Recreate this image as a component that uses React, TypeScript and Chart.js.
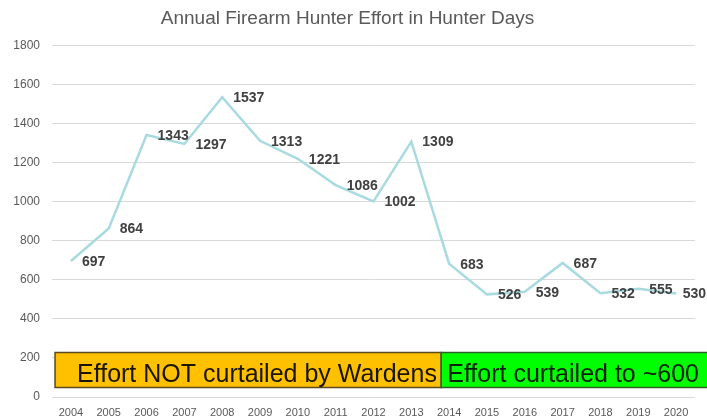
import React, { useEffect, useRef } from "react";
import { Chart, registerables } from "chart.js";

Chart.register(...registerables);

const years = ["2004", "2005", "2006", "2007", "2008", "2009", "2010", "2011", "2012", "2013", "2014", "2015", "2016", "2017", "2018", "2019", "2020"];
const hunterDays = [697, 864, 1343, 1297, 1537, 1313, 1221, 1086, 1002, 1309, 683, 526, 539, 687, 532, 555, 530];
const titleText = "Annual Firearm Hunter Effort in Hunter Days";
const bandLabels = ["Effort NOT curtailed by Wardens", "Effort curtailed to ~600"];
const bandRange = [52, 230];
const bandSplitIndex = 9;

const FONT = "'Liberation Sans', Arial, sans-serif";

const bandsPlugin = {
  id: "bands",
  afterDraw(chart: any) {
    const { ctx, scales } = chart;
    const x = scales.x;
    const y = scales.y;
    const step = x.getPixelForValue(1) - x.getPixelForValue(0);
    const left = x.getPixelForValue(0) - step * 0.42;
    const split = x.getPixelForValue(bandSplitIndex) + step * 0.79;
    const right = chart.width;
    const top = Math.round(y.getPixelForValue(bandRange[1])) + 0.5;
    const bottom = Math.round(y.getPixelForValue(bandRange[0])) + 0.5;
    ctx.save();
    ctx.lineWidth = 1.5;
    ctx.fillStyle = "#FFC000";
    ctx.strokeStyle = "#5a4a1e";
    ctx.fillRect(left, top, split - left, bottom - top);
    ctx.strokeRect(left, top, split - left, bottom - top);
    ctx.fillStyle = "#00FF00";
    ctx.strokeStyle = "#2f5f2f";
    ctx.fillRect(split, top, right - split, bottom - top);
    ctx.strokeRect(split, top, right - split + 2, bottom - top);
    ctx.font = `25px ${FONT}`;
    ctx.textBaseline = "alphabetic";
    ctx.textAlign = "left";
    ctx.fillStyle = "#1a1400";
    ctx.fillText(bandLabels[0], left + 22, bottom - 6);
    ctx.fillStyle = "#0a200a";
    ctx.fillText(bandLabels[1], split + 6, bottom - 6);
    ctx.restore();
  },
};

const valueLabelsPlugin = {
  id: "valueLabels",
  afterDatasetsDraw(chart: any) {
    const { ctx } = chart;
    const meta = chart.getDatasetMeta(0);
    ctx.save();
    ctx.font = `bold 14px ${FONT}`;
    ctx.fillStyle = "#404040";
    ctx.textBaseline = "middle";
    ctx.textAlign = "left";
    meta.data.forEach((pt: any, i: number) => {
      const txt = String(chart.data.datasets[0].data[i]);
      const w = ctx.measureText(txt).width;
      const xx = Math.min(pt.x + 11, chart.width - w - 1);
      ctx.fillText(txt, xx, pt.y + 1);
    });
    ctx.restore();
  },
};

export default function App() {
  const ref = useRef<HTMLCanvasElement | null>(null);
  useEffect(() => {
    if (!ref.current) return;
    Chart.defaults.font.family = FONT;
    const chart = new Chart(ref.current, {
      type: "line",
      data: {
        labels: years,
        datasets: [
          {
            data: hunterDays,
            borderColor: "#a9dadf",
            borderWidth: 2.5,
            pointRadius: 0,
            tension: 0,
            fill: false,
          },
        ],
      },
      options: {
        responsive: false,
        animation: false,
        layout: { padding: { top: 0, right: 12, left: 0, bottom: 0 } },
        plugins: {
          legend: { display: false },
          tooltip: { enabled: false },
          title: {
            display: true,
            text: titleText,
            color: "#595959",
            font: { size: 19, weight: "normal", family: FONT },
            padding: { top: 7, bottom: 16 },
          },
        },
        scales: {
          x: {
            offset: true,
            grid: { display: false, drawTicks: false },
            border: { display: false },
            ticks: { color: "#595959", font: { size: 11 }, padding: 9, maxRotation: 0, autoSkip: false },
            afterFit: (s: any) => {
              s.height = 22;
            },
          },
          y: {
            min: 0,
            max: 1800,
            grid: { color: "#d9d9d9", drawTicks: false },
            border: { display: false },
            ticks: {
              stepSize: 200,
              color: "#595959",
              font: { size: 12 },
              padding: 12,
              callback: (v: any) => String(v),
            },
            afterFit: (s: any) => {
              s.width = 52;
            },
          },
        },
      },
      plugins: [bandsPlugin, valueLabelsPlugin],
    });
    return () => chart.destroy();
  }, []);
  return (
    <div style={{ position: "absolute", left: 0, top: 0, width: 707, height: 419, background: "#fff" }}>
      <canvas ref={ref} width={707} height={419} />
    </div>
  );
}
